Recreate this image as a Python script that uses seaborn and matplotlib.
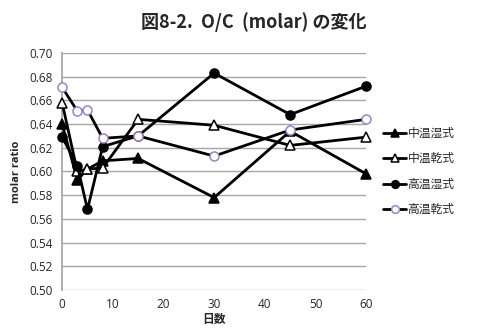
import matplotlib
matplotlib.use("Agg")
import matplotlib.pyplot as plt
import seaborn as sns
import pandas as pd

days = [0, 3, 5, 8, 15, 30, 45, 60]
series_names = ["中温湿式", "中温乾式", "高温湿式", "高温乾式"]
mid_wet = [0.640, 0.593, 0.602, 0.609, 0.611, 0.578, 0.634, 0.598]
mid_dry = [0.658, 0.600, 0.602, 0.603, 0.644, 0.639, 0.622, 0.629]
high_wet = [0.629, 0.605, 0.568, 0.621, 0.630, 0.683, 0.648, 0.672]
high_dry = [0.671, 0.651, 0.652, 0.628, 0.630, 0.613, 0.635, 0.644]
y_ticks = [0.50, 0.52, 0.54, 0.56, 0.58, 0.60, 0.62, 0.64, 0.66, 0.68, 0.70]
x_ticks = [0, 10, 20, 30, 40, 50, 60]

sns.set_theme(style="white")
plt.rcParams['font.family'] = ['Noto Sans CJK JP', 'DejaVu Sans']

values = [mid_wet, mid_dry, high_wet, high_dry]
df = pd.DataFrame({
    "day": days * 4,
    "value": sum(values, []),
    "series": [n for n in series_names for _ in days],
})

fig = plt.figure(figsize=(4.78, 3.33), dpi=100)
ax = fig.add_axes([0.130, 0.129, 0.636, 0.712])

styles = {
    "中温湿式": dict(marker="^", mfc="black", mec="black"),
    "中温乾式": dict(marker="^", mfc="white", mec="black"),
    "高温湿式": dict(marker="o", mfc="black", mec="black"),
    "高温乾式": dict(marker="o", mfc="white", mec="#9b84c4"),
}
for name in series_names:
    sub = df[df["series"] == name]
    st = styles[name]
    sns.lineplot(data=sub, x="day", y="value", ax=ax, color="black", linewidth=2,
                 marker=st["marker"], markersize=6.5, markerfacecolor=st["mfc"],
                 markeredgecolor=st["mec"], markeredgewidth=1.1, label=name, zorder=3,
                 clip_on=False)

ax.set_xlim(0, 60)
ax.set_ylim(0.50, 0.70)
ax.set_xticks(x_ticks)
ax.set_yticks(y_ticks)
ax.set_yticklabels([f"{v:.2f}" for v in y_ticks], fontsize=8.5)
ax.set_xticklabels([str(v) for v in x_ticks], fontsize=8.5)
ax.yaxis.grid(True, color="#a6a6a6", linewidth=1)
ax.xaxis.grid(False)
for s in ["top", "right", "bottom"]:
    ax.spines[s].set_visible(False)
ax.spines["left"].set_color("#a6a6a6")
ax.tick_params(axis="y", length=3, color="#a6a6a6", pad=4)
ax.tick_params(axis="x", length=0, pad=6)
for lbl in ax.get_xticklabels() + ax.get_yticklabels():
    lbl.set_family(['Open Sans', 'DejaVu Sans'])

ax.set_xlabel("日数", fontsize=8.5, fontweight="bold", labelpad=1)
ax.set_ylabel("molar ratio", fontsize=8, fontweight="bold", family=['Open Sans', 'DejaVu Sans'], labelpad=5)

leg = ax.legend(loc="center left", bbox_to_anchor=(1.02, 0.5), frameon=False,
                fontsize=8.5, handlelength=2.0, handletextpad=0.1, labelspacing=1.05,
                markerscale=0.85)

fig.suptitle("図8-2.  O/C  (molar) の変化", fontsize=13, fontweight="bold", x=0.53, y=0.965)

fig.savefig("out.png", dpi=100)
